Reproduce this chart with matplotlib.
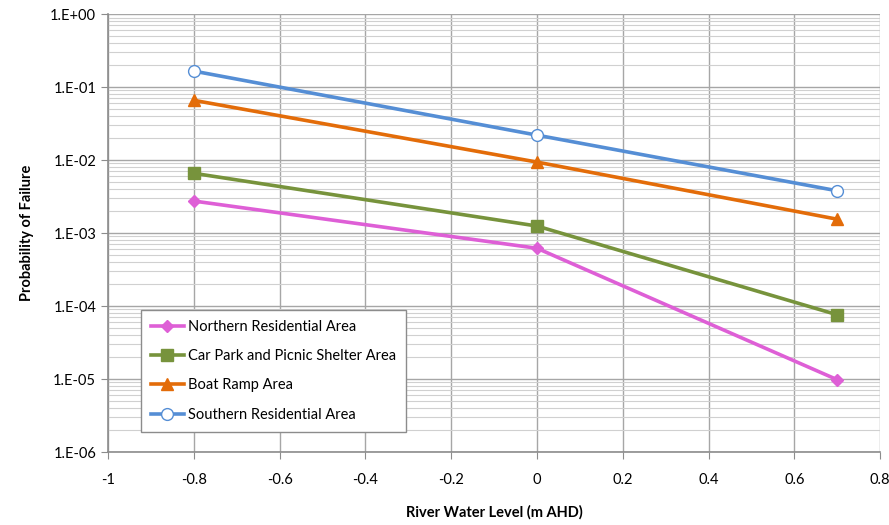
import matplotlib
matplotlib.use("Agg")
import matplotlib.pyplot as plt
from matplotlib.ticker import LogLocator, FixedLocator, NullFormatter, FixedFormatter

plt.rcParams['font.family'] = ['Lato', 'DejaVu Sans']

x_levels = [-0.8, 0.0, 0.7]
series_names = ["Northern Residential Area", "Car Park and Picnic Shelter Area",
                "Boat Ramp Area", "Southern Residential Area"]
northern = [2.75e-3, 6.2e-4, 9.8e-6]
carpark = [6.6e-3, 1.25e-3, 7.6e-5]
boatramp = [6.6e-2, 9.4e-3, 1.55e-3]
southern = [1.66e-1, 2.2e-2, 3.8e-3]
x_ticks = [-1, -0.8, -0.6, -0.4, -0.2, 0, 0.2, 0.4, 0.6, 0.8]
x_tick_labels = ["-1", "-0.8", "-0.6", "-0.4", "-0.2", "0", "0.2", "0.4", "0.6", "0.8"]
y_ticks = [1e-6, 1e-5, 1e-4, 1e-3, 1e-2, 1e-1, 1e0]
y_tick_labels = ["1.E-06", "1.E-05", "1.E-04", "1.E-03", "1.E-02", "1.E-01", "1.E+00"]

colors = ["#DE5FD6", "#77933C", "#E36C09", "#558ED5"]

fig = plt.figure(figsize=(8.89, 5.25), dpi=100)
ax = fig.add_axes([0.1215, 0.139, 0.8685, 0.834])

styles = [
    dict(marker="D", markersize=6.5, markerfacecolor=colors[0], markeredgecolor=colors[0]),
    dict(marker="s", markersize=9, markerfacecolor=colors[1], markeredgecolor=colors[1]),
    dict(marker="^", markersize=9, markerfacecolor=colors[2], markeredgecolor=colors[2]),
    dict(marker="o", markersize=8.5, markerfacecolor="white", markeredgecolor=colors[3], markeredgewidth=1.0),
]
for name, vals, c, st in zip(series_names, [northern, carpark, boatramp, southern], colors, styles):
    ax.plot(x_levels, vals, color=c, linewidth=2.6, label=name, zorder=3, **st)

ax.set_yscale("log")
ax.set_xlim(-1, 0.8)
ax.set_ylim(1e-6, 1)
ax.xaxis.set_major_locator(FixedLocator(x_ticks))
ax.xaxis.set_major_formatter(FixedFormatter(x_tick_labels))
ax.yaxis.set_major_locator(FixedLocator(y_ticks))
ax.yaxis.set_major_formatter(FixedFormatter(y_tick_labels))
ax.yaxis.set_minor_locator(LogLocator(base=10, subs=range(2, 10), numticks=20))
ax.yaxis.set_minor_formatter(NullFormatter())

ax.grid(which="major", axis="both", color="#A6A6A6", linewidth=1.0, zorder=0)
ax.grid(which="minor", axis="y", color="#D0D0D0", linewidth=0.8, zorder=0)
ax.set_axisbelow(True)

for s in ["top", "right"]:
    ax.spines[s].set_visible(False)
for s in ["left", "bottom"]:
    ax.spines[s].set_color("#8C8C8C")
    ax.spines[s].set_linewidth(1.2)

ax.tick_params(axis="both", which="major", labelsize=10.5, color="#8C8C8C", length=5, direction="out")
ax.tick_params(axis="y", which="minor", length=0)
ax.tick_params(axis="x", pad=10)

ax.set_xlabel("River Water Level (m AHD)", fontsize=10.5, fontweight="bold", labelpad=13)
ax.set_ylabel("Probability of Failure", fontsize=10.5, fontweight="bold", labelpad=12)

leg = ax.legend(loc="lower left", bbox_to_anchor=(0.043, 0.046), fontsize=10.5,
                frameon=True, fancybox=False, edgecolor="#8C8C8C", framealpha=1,
                handlelength=2.2, labelspacing=1.05, borderpad=0.7, handletextpad=0.3,
                borderaxespad=0)
leg.get_frame().set_linewidth(1.0)

fig.savefig("out.png", dpi=100)
